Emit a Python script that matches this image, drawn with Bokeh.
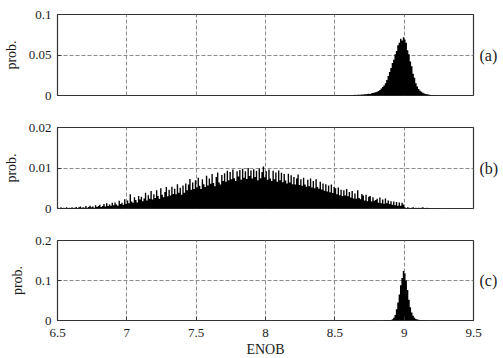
from bokeh.plotting import figure
from bokeh.layouts import column
from bokeh.models import FixedTicker, NumeralTickFormatter, LinearAxis
from bokeh.embed import file_html
from bokeh.resources import INLINE

# ---------------- data (probabilities in units of 0.001, bin width 0.01) ----------------
bin_width = 0.01
x_ticks = [6.5, 7, 7.5, 8, 8.5, 9, 9.5]

# panel (a): bins centred from 8.505
a_bin_start = 8.505
a_vals = [
    0.1, 0.0, 0.2, 0.1, 0.2, 0.3, 0.2, 0.3, 0.4, 0.3,
    0.5, 0.4, 0.6, 0.5, 0.8, 0.7, 0.9, 1.0, 0.8, 1.2,
    1.3, 1.5, 1.4, 1.9, 2.2, 2.0, 2.8, 3.2, 3.6, 4.1,
    4.5, 5.5, 6.8, 8.5, 10.5, 12.5, 15, 19, 24, 29,
    34, 40, 44, 51, 55, 62, 65, 70, 68, 72,
    69, 65, 56, 51, 42, 36, 27, 22, 15, 11,
    8, 6, 4.5, 3.5, 2.5, 2, 1.5, 1.2, 0.9, 0.7,
    0.5, 0.4, 0.3, 0.2, 0.2, 0.1, 0.1, 0.0, 0.1, 0.0,
]
a_yticks = [0, 0.05, 0.1]

# panel (b): bins centred from 6.505
b_bin_start = 6.505
b_vals = [
    0.2, 0.1, 0.3, 0.1, 0.2, 0.0, 0.3, 0.1, 0.2, 0.1,
    0.3, 0.1, 0.2, 0.4, 0.1, 0.3, 0.5, 0.2, 0.3, 0.2,
    0.6, 0.2, 0.4, 0.7, 0.3, 0.5, 0.2, 0.8, 0.4, 0.6,
    0.9, 0.4, 0.6, 1.1, 0.5, 1.3, 0.6, 1.0, 0.7, 1.4,
    0.8, 1.5, 1.0, 0.7, 1.9, 1.1, 1.4, 0.9, 2.3, 1.2,
    2.0, 1.3, 3.5, 1.7, 1.4, 2.8, 2.1, 1.5, 3.1, 2.2,
    2.9, 1.8, 2.5, 3.9, 2.0, 3.3, 2.4, 4.3, 2.2, 3.5,
    2.6, 4.5, 3.1, 2.4, 5.0, 3.4, 2.8, 4.1, 5.3, 3.0,
    4.6, 3.2, 5.4, 3.6, 4.9, 3.5, 6.0, 3.9, 5.1, 3.4,
    5.7, 3.9, 6.2, 4.5, 5.9, 7.3, 4.6, 6.4, 4.8, 7.0,
    5.2, 7.6, 5.6, 4.8, 7.2, 6.0, 5.3, 8.1, 5.7, 7.4,
    6.1, 8.5, 6.3, 5.5, 7.8, 8.9, 6.4, 5.9, 8.3, 6.8,
    8.7, 6.6, 9.3, 7.0, 9.0, 7.2, 9.6, 7.5, 6.8, 9.2,
    7.9, 9.5, 7.1, 9.8, 7.6, 9.2, 7.3, 10.0, 8.0, 9.4,
    7.4, 9.7, 7.8, 9.3, 7.0, 9.9, 7.5, 9.0, 10.4, 7.7,
    9.2, 7.1, 9.6, 7.4, 6.8, 9.3, 7.2, 8.9, 6.6, 9.4,
    7.0, 8.8, 6.5, 8.5, 6.9, 6.2, 8.6, 6.4, 8.2, 6.0,
    7.8, 5.9, 7.4, 8.4, 5.8, 7.2, 5.6, 7.6, 5.9, 5.4,
    7.1, 5.5, 7.4, 5.2, 6.8, 5.0, 7.2, 5.3, 4.9, 6.6,
    4.7, 6.2, 4.4, 6.0, 4.2, 5.7, 4.0, 5.9, 3.8, 5.3,
    5.0, 3.5, 5.2, 3.3, 4.6, 3.1, 4.5, 3.2, 4.8, 3.0,
    4.1, 2.7, 4.3, 2.5, 3.7, 2.4, 4.5, 2.6, 2.3, 3.6,
    3.2, 2.0, 3.4, 1.8, 2.9, 3.1, 1.7, 2.8, 1.9, 2.1,
    2.4, 1.4, 2.7, 1.3, 2.2, 1.2, 2.5, 1.3, 2.0, 1.1,
    1.8, 0.9, 1.7, 0.8, 1.6, 0.7, 1.5, 0.7, 1.4, 1.0,
    0.3, 0.1, 0.3, 0.2, 0.1, 0.2, 0.3, 0.1, 0.2, 0.1,
    0.2, 0.1, 0.2, 0.3, 0.1, 0.1, 0.2, 0.1, 0.1, 0.0,
    0.1, 0.0, 0.1, 0.0, 0.0, 0.1, 0.0, 0.0, 0.0, 0.0,
]
b_yticks = [0, 0.01, 0.02]

# panel (c): bins centred from 8.805
c_bin_start = 8.805
c_vals = [
    0.1, 0.2, 0.1, 0.3, 0.2, 0.4, 0.5, 0.4, 0.6, 0.8,
    1.5, 3, 7, 14, 28, 45, 65, 88, 106, 124,
    118, 100, 76, 52, 33, 20, 12, 7, 4, 2.5,
    1.8, 1.2, 0.9, 0.7, 0.5, 0.4, 0.3, 0.2, 0.2, 0.1,
    0.2, 0.1, 0.1, 0.0, 0.1, 0.0, 0.0, 0.0, 0.0, 0.0,
]
c_yticks = [0, 0.1, 0.2]

FONT = "Liberation Serif"
TXT = "#1a1a1a"


def make_panel(vals, start, ymax, yticks, tag, show_x, top, bottom, fh):
    p = figure(frame_width=416, frame_height=fh, x_range=(6.5, 9.5), y_range=(0, ymax),
               output_backend="svg", toolbar_location=None,
               min_border_left=55, min_border_right=10,
               min_border_top=top, min_border_bottom=bottom)
    centers = [start + bin_width * i for i in range(len(vals))]
    heights = [v / 1000.0 for v in vals]
    p.varea_step(x=centers, y1=[0] * len(vals), y2=heights, step_mode="center",
                 fill_color="black")

    xt = FixedTicker(ticks=x_ticks)
    yt = FixedTicker(ticks=yticks)
    p.xaxis.ticker = xt
    p.yaxis.ticker = yt
    p.xgrid.ticker = xt
    p.ygrid.ticker = yt
    fmt = NumeralTickFormatter(format="0.[00]")
    p.xaxis.formatter = fmt
    p.yaxis.formatter = fmt
    for g in (p.xgrid, p.ygrid):
        g.grid_line_color = "#8c8c8c"
        g.grid_line_dash = "4 2"
        g.grid_line_width = 1

    p.outline_line_color = "#333333"
    p.outline_line_width = 1.2
    p.outline_line_alpha = 1
    for ax in (p.xaxis, p.yaxis):
        ax.axis_line_color = None
        ax.major_tick_in = 4
        ax.major_tick_out = 0
        ax.minor_tick_line_color = None
        ax.major_tick_line_color = "#333333"
        ax.major_label_text_font = FONT
        ax.major_label_text_font_size = "13px"
        ax.major_label_text_color = TXT
        ax.axis_label_text_font = FONT
        ax.axis_label_text_font_style = "normal"
        ax.axis_label_text_font_size = "14px"
        ax.axis_label_text_color = TXT
    p.yaxis.major_label_standoff = 6
    p.yaxis.axis_label = "prob."
    p.yaxis.axis_label_standoff = 7
    if show_x:
        p.xaxis.axis_label = "ENOB"
        p.xaxis.major_label_standoff = 8
        p.xaxis.axis_label_standoff = 2
    else:
        p.xaxis.visible = False

    tag_axis = LinearAxis(ticker=FixedTicker(ticks=[]), axis_label=tag,
                          axis_label_orientation="horizontal",
                          axis_line_color=None, major_tick_line_color=None,
                          minor_tick_line_color=None, axis_label_standoff=6,
                          axis_label_text_font=FONT, axis_label_text_font_size="16px",
                          axis_label_text_font_style="normal",
                          axis_label_text_color=TXT)
    p.add_layout(tag_axis, "right")
    p.background_fill_color = "white"
    p.border_fill_color = "white"
    return p


pa = make_panel(a_vals, a_bin_start, 0.1, a_yticks, "(a)", False, 14, 16, 81)
pb = make_panel(b_vals, b_bin_start, 0.02, b_yticks, "(b)", False, 16, 16, 81)
pc = make_panel(c_vals, c_bin_start, 0.2, c_yticks, "(c)", True, 16, 36, 80)

layout = column(pa, pb, pc, spacing=0)
open("out.html", "w").write(file_html(layout, INLINE))
